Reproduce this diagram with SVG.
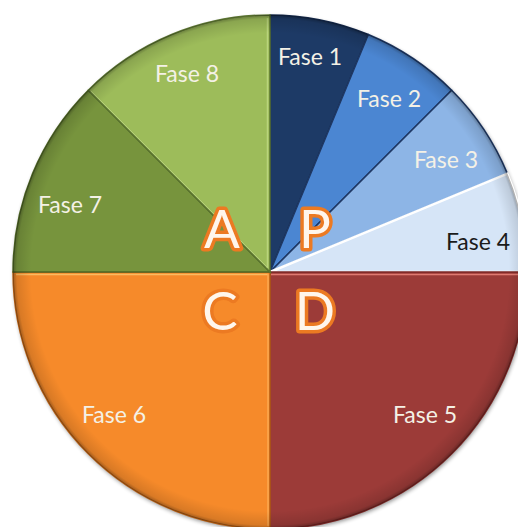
<svg xmlns="http://www.w3.org/2000/svg" width="518" height="527" viewBox="0 0 518 527">
<defs>
<style>
.lbl{font-family:Lato,"Open Sans","Liberation Sans",sans-serif;font-size:23px;text-anchor:middle;fill:#f4f1e6}
.dark{fill:#1b1b1b}
.big{font-family:Lato,"Open Sans","Liberation Sans",sans-serif;font-weight:normal;font-size:53px;text-anchor:middle;fill:#fff6ec;stroke:#ec7a22;stroke-width:7;paint-order:stroke;stroke-linejoin:round}
.w{stroke-width:1.5;stroke-linejoin:round}
</style>
<filter id="sh" x="-10%" y="-10%" width="120%" height="120%">
<feGaussianBlur stdDeviation="2"/>
</filter>
<radialGradient id="bev" cx="270" cy="272" r="257" gradientUnits="userSpaceOnUse">
<stop offset="0.93" stop-color="#000" stop-opacity="0"/>
<stop offset="0.985" stop-color="#000" stop-opacity="0.12"/>
<stop offset="1" stop-color="#000" stop-opacity="0.35"/>
</radialGradient>
</defs>
<rect width="518" height="527" fill="#fff"/>
<circle cx="271" cy="274" r="257" fill="#000" opacity="0.45" filter="url(#sh)"/>
<g id="fase1"><path class="w" d="M270,272 L270,15 A257,257 0 0,1 368.35,34.56 Z" fill="#1d3a66" stroke="#14284a"/><text class="lbl" x="310" y="65">Fase 1</text></g>
<g id="fase2"><path class="w" d="M270,272 L368.35,34.56 A257,257 0 0,1 451.73,90.27 Z" fill="#4b86d2" stroke="#1f3864"/><text class="lbl" x="389" y="107">Fase 2</text></g>
<g id="fase3"><path class="w" d="M270,272 L451.73,90.27 A257,257 0 0,1 507.44,173.65 Z" fill="#8db5e6" stroke="#1f3864"/><text class="lbl" x="446" y="168">Fase 3</text></g>
<g id="fase4"><path d="M270,272 L507.44,173.65 A257,257 0 0,1 527,272 Z" fill="#d6e5f7" stroke="#ffffff" stroke-width="2.5" stroke-linejoin="round"/><text class="lbl dark" x="478" y="250">Fase 4</text></g>
<g id="fase5"><path d="M270,272 L527,272 A257,257 0 0,1 270,529 Z" fill="#9c3b38" stroke="#7a2624" stroke-width="1.5"/><path d="M271,274.5 H520" stroke="#e07b72" stroke-width="1.5"/><text class="lbl" x="425" y="423">Fase 5</text></g>
<g id="fase6"><path d="M270,272 L270,529 A257,257 0 0,1 13,272 Z" fill="#f68a2a" stroke="#b65f14" stroke-width="1.5"/><path d="M16,274.5 H268" stroke="#fbbb60" stroke-width="1.5"/><path d="M268,274 V526" stroke="#fba850" stroke-width="1.5"/><text class="lbl" x="114" y="423">Fase 6</text></g>
<g id="fase7"><path d="M270,272 L13,272 A257,257 0 0,1 88.27,90.27 Z" fill="#77943d" stroke="#4f6626" stroke-width="1.5"/><text class="lbl" x="70" y="213">Fase 7</text></g>
<g id="fase8"><path d="M270,272 L88.27,90.27 A257,257 0 0,1 270,15 Z" fill="#9dbc5a" stroke="#5a7330" stroke-width="1.5"/><path d="M91,91 L267,267" stroke="#b5d07a" stroke-width="1"/><path d="M267.5,18 V268" stroke="#b9d47c" stroke-width="1.5"/><text class="lbl" x="187" y="82">Fase 8</text></g>
<circle cx="270" cy="272" r="257" fill="url(#bev)"/>
<g id="letters">
<text class="big" x="222" y="248">A</text>
<text class="big" x="315" y="248">P</text>
<text class="big" x="220" y="330">C</text>
<text class="big" x="315" y="330">D</text>
</g>
</svg>
